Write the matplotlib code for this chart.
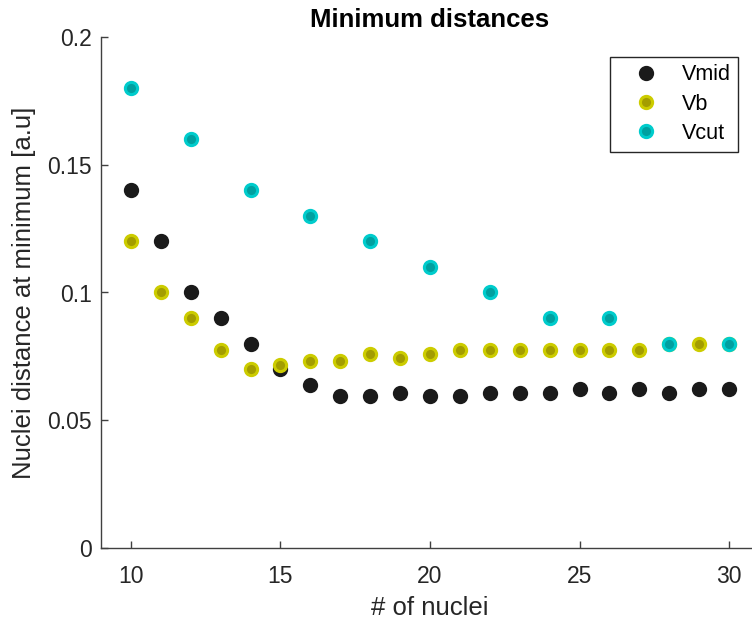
import numpy as np
import matplotlib
matplotlib.use('Agg')
import matplotlib.pyplot as plt

plt.rcParams['font.family'] = ['Liberation Sans', 'DejaVu Sans']

# number of nuclei
n_mid = list(range(10, 31))
n_b = list(range(10, 31))
n_cut = list(range(10, 31, 2))

# distance at the minimum for each potential
d_mid = [0.14, 0.12, 0.10, 0.09, 0.08, 0.070, 0.0639, 0.0595, 0.0595, 0.0609,
         0.0595, 0.0595, 0.0609, 0.0609, 0.0609, 0.0624, 0.0609, 0.0624, 0.0609,
         0.0624, 0.0624]
d_b = [0.12, 0.10, 0.09, 0.0774, 0.070, 0.0716, 0.0731, 0.0731, 0.0760, 0.0744,
       0.0760, 0.0775, 0.0775, 0.0775, 0.0775, 0.0775, 0.0775, 0.0775, 0.08,
       0.08, 0.08]
d_cut = [0.18, 0.16, 0.14, 0.13, 0.12, 0.11, 0.10, 0.09, 0.09, 0.08, 0.08]

fig = plt.figure(figsize=(7.52, 6.27), dpi=100)
ax = fig.add_axes([101 / 752, 1 - 548.3 / 627, 658 / 752, 511.6 / 627])

ms = 8.8
mew = 2.2
ax.plot(n_mid, d_mid, 'o', ms=ms, mew=mew, mfc='#1a1a1a', mec='#1a1a1a', label='Vmid')
ax.plot(n_b, d_b, 'o', ms=ms, mew=mew, mfc='#a39d00', mec='#cccc00', label='Vb')
ax.plot(n_cut, d_cut, 'o', ms=ms, mew=mew, mfc='#00a0a0', mec='#00cccc', label='Vcut')

ax.set_xlim(9, 31)
ax.set_ylim(0, 0.2)
ax.set_xticks([10, 15, 20, 25, 30])
ax.set_yticks([0, 0.05, 0.1, 0.15, 0.2])
ax.set_yticklabels(['0', '0.05', '0.1', '0.15', '0.2'])

for side in ['top', 'right']:
    ax.spines[side].set_visible(False)
for side in ['left', 'bottom']:
    ax.spines[side].set_color('#404040')
    ax.spines[side].set_linewidth(1.0)

ax.tick_params(axis='both', direction='in', length=5, width=1.0, color='#404040',
               labelsize=16.5, labelcolor='#262626')
ax.tick_params(axis='x', pad=12)
ax.tick_params(axis='y', pad=6.5)

ax.set_xlabel('# of nuclei', fontsize=18.5, color='#262626', labelpad=6)
ax.set_ylabel('Nuclei distance at minimum [a.u]', fontsize=18.5, color='#262626', labelpad=8)
ax.set_title('Minimum distances', fontsize=18.5, fontweight='bold', pad=7)

leg = ax.legend(loc='upper right', bbox_to_anchor=(738 / 752, 1 - 56.7 / 627),
                bbox_transform=fig.transFigure, fontsize=15.5, frameon=True,
                fancybox=False, edgecolor='#262626', framealpha=1,
                handlelength=2.65, handletextpad=0.3, borderpad=0.35,
                labelspacing=0.39, borderaxespad=0)
leg.get_frame().set_linewidth(1.0)

fig.savefig('out.png', dpi=100)
